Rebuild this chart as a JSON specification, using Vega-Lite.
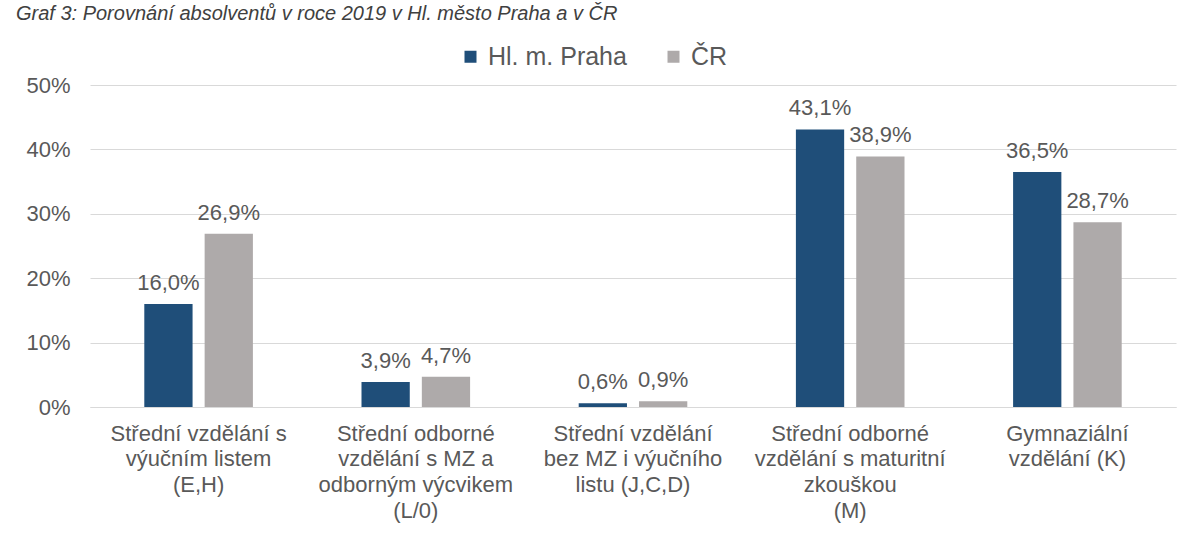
{
  "$schema": "https://vega.github.io/schema/vega-lite/v6.json",
  "autosize": {"type": "none"},
  "width": 1086,
  "height": 322,
  "padding": {"left": 90, "top": 85, "right": 28, "bottom": 133},
  "background": "white",
  "title": {
    "text": "Graf 3: Porovnání absolventů v roce 2019 v Hl. město Praha a v ČR",
    "anchor": "start",
    "frame": "bounds",
    "orient": "top",
    "offset": 20,
    "dx": -10,
    "font": "Liberation Sans",
    "fontStyle": "italic",
    "fontWeight": "normal",
    "fontSize": 20,
    "color": "#404040"
  },
  "config": {
    "locale": {"number": {"decimal": ",", "thousands": " ", "grouping": [3], "currency": ["", " Kč"]}},
    "view": {"stroke": null},
    "font": "Liberation Sans"
  },
  "data": {
    "values": [
      {"kategorie": "Střední vzdělání s|výučním listem|(E,H)", "uzemi": "Hl. m. Praha", "podil": 0.160},
      {"kategorie": "Střední vzdělání s|výučním listem|(E,H)", "uzemi": "ČR", "podil": 0.269},
      {"kategorie": "Střední odborné|vzdělání s MZ a|odborným výcvikem|(L/0)", "uzemi": "Hl. m. Praha", "podil": 0.039},
      {"kategorie": "Střední odborné|vzdělání s MZ a|odborným výcvikem|(L/0)", "uzemi": "ČR", "podil": 0.047},
      {"kategorie": "Střední vzdělání|bez MZ i výučního|listu (J,C,D)", "uzemi": "Hl. m. Praha", "podil": 0.006},
      {"kategorie": "Střední vzdělání|bez MZ i výučního|listu (J,C,D)", "uzemi": "ČR", "podil": 0.009},
      {"kategorie": "Střední odborné|vzdělání s maturitní|zkouškou|(M)", "uzemi": "Hl. m. Praha", "podil": 0.431},
      {"kategorie": "Střední odborné|vzdělání s maturitní|zkouškou|(M)", "uzemi": "ČR", "podil": 0.389},
      {"kategorie": "Gymnaziální|vzdělání  (K)", "uzemi": "Hl. m. Praha", "podil": 0.365},
      {"kategorie": "Gymnaziální|vzdělání  (K)", "uzemi": "ČR", "podil": 0.287}
    ]
  },
  "encoding": {
    "x": {
      "field": "kategorie",
      "type": "nominal",
      "sort": null,
      "title": null,
      "scale": {"paddingInner": 0.5, "paddingOuter": 0.25},
      "axis": {
        "labelAngle": 0,
        "labelExpr": "split(datum.label, '|')",
        "labelFontSize": 22,
        "labelColor": "#595959",
        "labelFont": "Liberation Sans",
        "labelLineHeight": 25.7,
        "labelPadding": 16,
        "labelLimit": 400,
        "ticks": false,
        "domainColor": "#D9D9D9",
        "domainWidth": 1
      }
    },
    "xOffset": {
      "field": "uzemi",
      "type": "nominal",
      "sort": ["Hl. m. Praha", "ČR"],
      "scale": {"paddingInner": 0.2}
    },
    "y": {
      "field": "podil",
      "type": "quantitative",
      "title": null,
      "scale": {"domain": [0, 0.5]},
      "axis": {
        "values": [0, 0.1, 0.2, 0.3, 0.4, 0.5],
        "format": ".0%",
        "domain": false,
        "ticks": false,
        "gridColor": "#D9D9D9",
        "labelFontSize": 22,
        "labelColor": "#595959",
        "labelFont": "Liberation Sans",
        "labelPadding": 20
      }
    },
    "color": {
      "field": "uzemi",
      "type": "nominal",
      "sort": ["Hl. m. Praha", "ČR"],
      "scale": {"domain": ["Hl. m. Praha", "ČR"], "range": ["#1F4E79", "#AEAAAA"]},
      "legend": {
        "title": null,
        "orient": "none",
        "direction": "horizontal",
        "legendX": 368,
        "legendY": -41,
        "symbolType": "square",
        "symbolSize": 144,
        "symbolStrokeWidth": 0,
        "labelFontSize": 25,
        "labelColor": "#595959",
        "labelFont": "Liberation Sans",
        "labelOffset": 5,
        "columnPadding": 34
      }
    }
  },
  "layer": [
    {"mark": {"type": "bar"}},
    {
      "mark": {"type": "text", "baseline": "alphabetic", "dy": -14, "fontSize": 22, "color": "#595959", "font": "Liberation Sans"},
      "encoding": {
        "text": {"field": "podil", "type": "quantitative", "format": ".1%"},
        "color": {"value": "#595959"}
      }
    }
  ]
}
